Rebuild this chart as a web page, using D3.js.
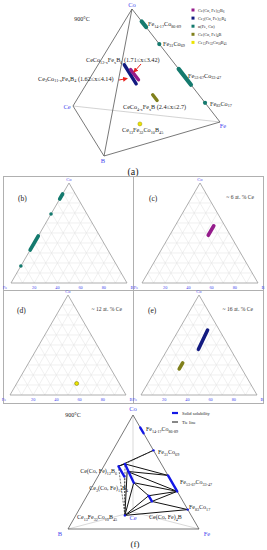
<!DOCTYPE html>
<html>
<head>
<meta charset="utf-8">
<script src="https://cdnjs.cloudflare.com/ajax/libs/d3/7.8.5/d3.min.js"></script>
<style>
  body { margin: 0; background: #fff; }
  svg text { font-family: "Liberation Serif", "Times New Roman", serif; }
</style>
</head>
<body>
<div id="chart"></div>
<script>
// compositions are [Ce, Co, Fe, B] in at.%
const alphaFeCo = [
  [[0, 89, 11, 0], [0, 84, 16, 0]],
  [[0, 69, 31, 0]],
  [[0, 47, 53, 0], [0, 33, 67, 0]],
  [[0, 17, 83, 0]]
];
const ce12b6 = [[5.3, 54.2, 9.0, 31.5], [5.3, 45.2, 18.0, 31.5]];   // x = 1.71 .. 3.42
const ce3b4 = [[16.7, 57.9, 9.0, 22.2], [16.7, 38.1, 23.0, 22.2]];  // x = 1.62 .. 4.14
const ce3b4mid = [16.7, 48.0, 13.0, 22.2];
const ceco4b = [[16.7, 26.7, 40.0, 16.6], [16.7, 21.7, 45.0, 16.6]]; // x = 2.4 .. 2.7
const quat = [13, 10, 32, 45];

const legendNames = ["Ce(Co, Fe)_{12}B_{6}", "Ce_{3}(Co, Fe)_{11}B_{4}", "α(Fe, Co)", "Ce(Co, Fe)_{4}B", "Ce_{13}Fe_{32}Co_{10}B_{45}"];
const phaseColors = ["#951c8c", "#121a80", "#147a6e", "#80801c", "#ece400"];

const sections = ["(b)", "(c)", "(d)", "(e)"];
const sectionCe = ["", "~ 6 at. % Ce", "~ 12 at. % Ce", "~ 16 at. % Ce"];
const ticks = [20, 40, 60, 80];

// tie lines of (f), by node name
const tieLines = [["P12a", "A"], ["P12a", "P3a"], ["P3a", "S1a"], ["P3m", "S1a"], ["P3b", "S1b"], ["P3m", "S1b"],
  ["P3b", "Ka"], ["Ka", "S1b"], ["Kb", "S1b"], ["Kb", "D"], ["Y", "D"], ["Y", "Kb"], ["Y", "Ka"], ["Y", "P3b"], ["Y", "P3m"]];
const dashedLines = [["P3a", "A"], ["Y", "P12a"], ["Y", "P12b"], ["Y", "P3a"]];

const width = 267, height = 550;
const blue = "#4848ee";

const svg = d3.select("#chart").append("svg")
  .attr("width", width).attr("height", height);

// text with _{..} subscripts
function rich(g, str, x, y, size, anchor) {
  const t = g.append("text").attr("x", x).attr("y", y)
    .attr("font-size", size).attr("text-anchor", anchor || "start").attr("fill", "#222");
  let cur = 0;
  str.split(/(_\{[^}]*\})/).filter(s => s.length).forEach(p => {
    const sub = p.startsWith("_{");
    const shift = sub ? size * 0.28 : 0;
    t.append("tspan").attr("dy", shift - cur)
      .attr("font-size", sub ? size * 0.68 : size)
      .text(sub ? p.slice(2, -1) : p);
    cur = shift;
  });
  return t;
}

// linear projection of a quaternary composition onto the page
function proj(verts, c) {
  const s = d3.sum(c);
  return [d3.sum(c, (v, i) => v * verts[i][0]) / s, d3.sum(c, (v, i) => v * verts[i][1]) / s];
}

// ---------- (a) tetrahedron ----------
const tetA = [[73, 106], [132, 9], [220, 122], [104, 156]]; // Ce, Co, Fe, B
const ga = svg.append("g");
const edge = (g, v, a, b, col) => g.append("line")
  .attr("x1", v[a][0]).attr("y1", v[a][1]).attr("x2", v[b][0]).attr("y2", v[b][1])
  .attr("stroke", col).attr("stroke-width", 0.8);
edge(ga, tetA, 0, 2, "#c8c8c8");
[[0, 1], [1, 2], [1, 3], [0, 3], [3, 2]].forEach(e => edge(ga, tetA, e[0], e[1], "#555"));

ga.append("text").attr("x", 132).attr("y", 7).attr("text-anchor", "middle").attr("font-size", 6.5).attr("fill", blue).text("Co");
ga.append("text").attr("x", 67).attr("y", 109).attr("text-anchor", "middle").attr("font-size", 6.5).attr("fill", blue).text("Ce");
ga.append("text").attr("x", 103).attr("y", 163).attr("text-anchor", "middle").attr("font-size", 6.5).attr("fill", blue).text("B");
ga.append("text").attr("x", 223).attr("y", 128).attr("text-anchor", "middle").attr("font-size", 6.5).attr("fill", blue).text("Fe");
ga.append("text").attr("x", 82).attr("y", 21).attr("text-anchor", "middle").attr("font-size", 6).attr("fill", "#222").text("900°C");

function drawSeg(g, pf, seg, col, w) {
  if (seg.length === 1) {
    const p = pf(seg[0]);
    g.append("circle").attr("cx", p[0]).attr("cy", p[1]).attr("r", w / 2).attr("fill", col);
  } else {
    g.append("path").attr("d", d3.line()(seg.map(pf)))
      .attr("stroke", col).attr("stroke-width", w).attr("stroke-linecap", "round").attr("fill", "none");
  }
}
const pa = c => proj(tetA, c);
alphaFeCo.forEach(s => drawSeg(ga, pa, s, phaseColors[2], 4.2));
drawSeg(ga, pa, ce3b4, phaseColors[1], 3.4);
drawSeg(ga, c => { const p = pa(c); return [p[0] + 2.6, p[1] - 1]; }, ce12b6, phaseColors[0], 3.4);
drawSeg(ga, pa, ceco4b, phaseColors[3], 3.4);
const qa = pa(quat);
ga.append("circle").attr("cx", qa[0]).attr("cy", qa[1]).attr("r", 2).attr("fill", phaseColors[4]).attr("stroke", "#9a9000").attr("stroke-width", 0.5);

// red arrows
svg.append("defs").append("marker").attr("id", "arr").attr("viewBox", "0 0 10 10")
  .attr("refX", 8).attr("refY", 5).attr("markerWidth", 5).attr("markerHeight", 5).attr("orient", "auto")
  .append("path").attr("d", "M0,0L10,5L0,10z").attr("fill", "#e8231e");
[[[141, 64], [134, 72]], [[119, 80], [127, 78.5]]].forEach(a => ga.append("line")
  .attr("x1", a[0][0]).attr("y1", a[0][1]).attr("x2", a[1][0]).attr("y2", a[1][1])
  .attr("stroke", "#e8231e").attr("stroke-width", 1).attr("marker-end", "url(#arr)"));

rich(ga, "Fe_{14-17}Co_{86-89}", 148, 26, 6.2);
rich(ga, "Fe_{31}Co_{69}", 163, 45.5, 6.2);
rich(ga, "Fe_{53-67}Co_{33-47}", 188, 77.5, 6.2);
rich(ga, "Fe_{83}Co_{17}", 210, 105.5, 6.2);
rich(ga, "CeCo_{12-x}Fe_{x}B_{6} (1.71≤x≤3.42)", 86, 62, 6.2);
rich(ga, "Ce_{3}Co_{11-x}Fe_{x}B_{4} (1.62≤x≤4.14)", 38, 80.5, 6.2);
rich(ga, "CeCo_{4-x}Fe_{x}B (2.4≤x≤2.7)", 123, 109, 6.2);
rich(ga, "Ce_{13}Fe_{32}Co_{10}B_{45}", 122, 132, 6.2);

// legend
legendNames.forEach((n, i) => {
  const y = 10 + i * 8.1;
  ga.append("rect").attr("x", 191.5).attr("y", y - 1.5).attr("width", 3).attr("height", 3).attr("fill", phaseColors[i]);
  rich(ga, n, 198, y + 1.6, 4.3);
});
svg.append("text").attr("x", 133).attr("y", 174.5).attr("text-anchor", "middle").attr("font-size", 10).attr("fill", "#222").text("(a)");

// ---------- (b)-(e) ternary sections ----------
svg.append("rect").attr("x", 3.5).attr("y", 176.5).attr("width", 260).attr("height", 227)
  .attr("fill", "none").attr("stroke", "#b0b0b0").attr("stroke-width", 1);
svg.append("line").attr("x1", 133.5).attr("x2", 133.5).attr("y1", 176.5).attr("y2", 403.5).attr("stroke", "#b0b0b0");
svg.append("line").attr("x1", 3.5).attr("x2", 263.5).attr("y1", 290.5).attr("y2", 290.5).attr("stroke", "#b0b0b0");

const panelPos = [[11, 283], [142, 283], [10, 395], [141, 395]];
const panelData = [alphaFeCo, [ce12b6], [[quat]], [ce3b4, ceco4b]];
const panelColors = [[2, 2, 2, 2], [0], [4], [1, 3]];

sections.forEach((lab, k) => {
  const g = svg.append("g");
  const xs = d3.scaleLinear().domain([0, 1]).range([panelPos[k][0], panelPos[k][0] + 116]);
  const ys = d3.scaleLinear().domain([0, 1]).range([panelPos[k][1], panelPos[k][1] - 100]);
  // ternary Fe (left), B (right), Co (top), Ce removed
  const tp = c => { const s = c[1] + c[2] + c[3]; const co = c[1] / s, b = c[3] / s; return [xs(b + co / 2), ys(co)]; };
  const grid = g.append("g").attr("stroke", "#e6e6e6").attr("stroke-width", 0.6);
  d3.range(1, 10).forEach(i => {
    const f = i / 10;
    [[[0, f * 100, (1 - f) * 100, 0], [0, f * 100, 0, (1 - f) * 100]],
     [[0, 0, (1 - f) * 100, f * 100], [0, (1 - f) * 100, 0, f * 100]],
     [[0, 0, f * 100, (1 - f) * 100], [0, (1 - f) * 100, f * 100, 0]]].forEach(l => {
      const a = tp(l[0]), b = tp(l[1]);
      grid.append("line").attr("x1", a[0]).attr("y1", a[1]).attr("x2", b[0]).attr("y2", b[1]);
    });
  });
  const corners = [[0, 0, 100, 0], [0, 0, 0, 100], [0, 100, 0, 0]].map(tp);
  g.append("path").attr("d", d3.line()(corners) + "Z").attr("fill", "none").attr("stroke", "#9a9a9a").attr("stroke-width", 0.8);
  g.append("text").attr("x", corners[2][0]).attr("y", corners[2][1] - 2).attr("text-anchor", "middle")
    .attr("font-size", 4.5).attr("fill", blue).text("Co");
  g.append("text").attr("x", corners[0][0] - 6).attr("y", corners[0][1] + 6).attr("text-anchor", "middle")
    .attr("font-size", 4.5).attr("fill", blue).text("Fe");
  g.append("text").attr("x", corners[1][0] + 5).attr("y", corners[1][1] + 6).attr("text-anchor", "middle")
    .attr("font-size", 4.5).attr("fill", blue).text("B");
  ticks.forEach(t => g.append("text").attr("x", xs(t / 100)).attr("y", corners[0][1] + 6)
    .attr("text-anchor", "middle").attr("font-size", 4.3).attr("fill", blue).text(t));
  g.append("text").attr("x", panelPos[k][0] + 7).attr("y", panelPos[k][1] - 82).attr("font-size", 7.5).attr("fill", "#222").text(lab);
  g.append("text").attr("x", panelPos[k][0] + 112).attr("y", panelPos[k][1] - 84).attr("text-anchor", "end")
    .attr("font-family", "Open Sans, sans-serif").attr("font-size", 5.6).attr("fill", "#333").text(sectionCe[k]);
  panelData[k].forEach((seg, j) => {
    const col = phaseColors[panelColors[k][j]];
    if (seg.length === 1 && k === 2) {
      const p = tp(seg[0]);
      g.append("circle").attr("cx", p[0]).attr("cy", p[1]).attr("r", 2).attr("fill", col).attr("stroke", "#6a6a00").attr("stroke-width", 0.5);
    } else drawSeg(g, tp, seg, col, 3.6);
  });
});

// ---------- (f) projection with tie lines ----------
const tetF = [[133, 512], [133, 415], [199, 529], [68, 529]]; // Ce, Co, Fe, B
const gf = svg.append("g");
[[0, 1], [0, 3], [0, 2]].forEach(e => edge(gf, tetF, e[0], e[1], "#cfcfcf"));
[[1, 3], [1, 2], [3, 2]].forEach(e => edge(gf, tetF, e[0], e[1], "#555"));

const pf = c => proj(tetF, c);
const nodes = {
  A: alphaFeCo[1][0], S1a: alphaFeCo[2][0], S1b: alphaFeCo[2][1], D: alphaFeCo[3][0],
  P12a: ce12b6[0], P12b: ce12b6[1], P3a: ce3b4[0], P3b: ce3b4[1], P3m: ce3b4mid,
  Ka: ceco4b[0], Kb: ceco4b[1], Y: quat
};
tieLines.forEach(l => gf.append("path").attr("d", d3.line()([pf(nodes[l[0]]), pf(nodes[l[1]])]))
  .attr("stroke", "#111").attr("stroke-width", 1));
dashedLines.forEach(l => gf.append("path").attr("d", d3.line()([pf(nodes[l[0]]), pf(nodes[l[1]])]))
  .attr("stroke", "#333").attr("stroke-width", 0.7).attr("stroke-dasharray", "2,1.2"));
const solidBlue = "#1418e6";
alphaFeCo.concat([ce12b6, ce3b4, ceco4b]).forEach(s => drawSeg(gf, pf, s, solidBlue, 2.4));
const qf = pf(quat);
gf.append("circle").attr("cx", qf[0]).attr("cy", qf[1]).attr("r", 1.2).attr("fill", solidBlue);

gf.append("text").attr("x", 133).attr("y", 411).attr("text-anchor", "middle").attr("font-size", 6.5).attr("fill", blue).text("Co");
gf.append("text").attr("x", 133).attr("y", 520).attr("text-anchor", "middle").attr("font-size", 6.5).attr("fill", blue).text("Ce");
gf.append("text").attr("x", 60).attr("y", 536).attr("text-anchor", "middle").attr("font-size", 6.5).attr("fill", blue).text("B");
gf.append("text").attr("x", 207).attr("y", 536).attr("text-anchor", "middle").attr("font-size", 6.5).attr("fill", blue).text("Fe");
gf.append("text").attr("x", 73).attr("y", 417).attr("text-anchor", "middle").attr("font-size", 6).attr("fill", "#222").text("900°C");

rich(gf, "Fe_{14-17}Co_{86-89}", 146, 431, 6);
rich(gf, "Fe_{31}Co_{69}", 158, 454, 6);
rich(gf, "Fe_{53-67}Co_{33-47}", 180, 484, 6);
rich(gf, "Fe_{83}Co_{17}", 189, 509, 6);
rich(gf, "Ce(Co, Fe)_{12}B_{6}", 117, 473, 6, "end");
rich(gf, "Ce_{3}(Co, Fe)_{11}B_{4}", 128, 490, 6, "end");
rich(gf, "Ce_{13}Fe_{32}Co_{10}B_{45}", 117, 519, 6, "end");
rich(gf, "Ce(Co, Fe)_{4}B", 149, 519, 6);

gf.append("line").attr("x1", 172).attr("x2", 178).attr("y1", 413).attr("y2", 413).attr("stroke", solidBlue).attr("stroke-width", 2.2);
gf.append("line").attr("x1", 172).attr("x2", 178).attr("y1", 422).attr("y2", 422).attr("stroke", "#111").attr("stroke-width", 1);
gf.append("text").attr("x", 182).attr("y", 415).attr("font-size", 4.5).attr("fill", "#222").text("Solid solubility");
gf.append("text").attr("x", 182).attr("y", 424).attr("font-size", 4.5).attr("fill", "#222").text("Tie line");
svg.append("text").attr("x", 135).attr("y", 547).attr("text-anchor", "middle").attr("font-size", 9).attr("fill", "#222").text("(f)");
</script>
</body>
</html>
